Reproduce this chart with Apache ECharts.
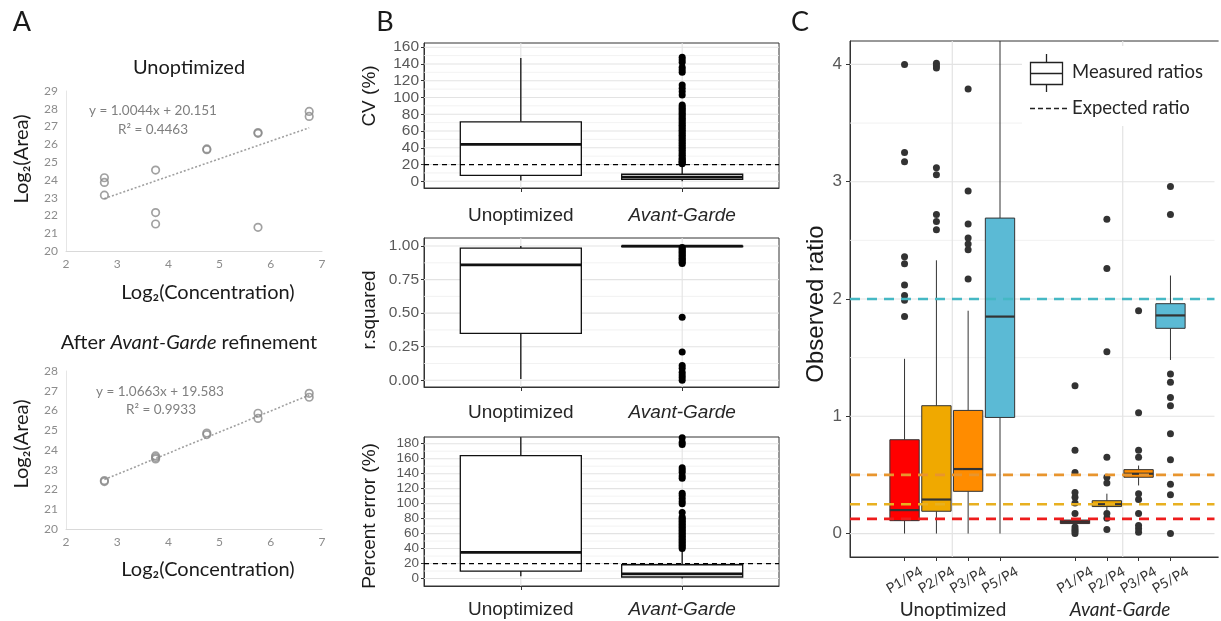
<!DOCTYPE html>
<html><head><meta charset="utf-8">
<script src="https://cdn.jsdelivr.net/npm/echarts@6/dist/echarts.min.js"></script>
<style>html,body{margin:0;padding:0;background:#fff}#c{width:1221px;height:621px}</style>
</head><body><div id="c"></div>
<script>
// ---------------- Panel A data ----------------
const aXTicks = [2, 3, 4, 5, 6, 7];
const aTopPoints = [[2.75,24.12],[2.75,23.86],[2.75,23.14],[3.75,24.55],[3.75,22.16],[3.75,21.52],[4.75,25.70],[4.75,25.74],[5.75,26.66],[5.75,26.62],[5.75,21.33],[6.75,27.85],[6.75,27.57]];
const aTopTrend = [[2.75,22.95],[6.75,26.93]];
const aBotPoints = [[2.75,22.40],[2.75,22.45],[3.75,23.55],[3.75,23.62],[3.75,23.70],[4.75,24.78],[4.75,24.86],[5.75,25.60],[5.75,25.86],[6.75,26.67],[6.75,26.87]];
const aBotTrend = [[2.75,22.50],[6.75,26.78]];
const aTopEq = ['y = 1.0044x + 20.151', 'R² = 0.4463'];
const aBotEq = ['y = 1.0663x + 19.583', 'R² = 0.9933'];

// ---------------- Panel B data ----------------
const bCategories = ['Unoptimized', 'Avant-Garde'];
// each box: [low, q1, median, q3, high]
const cvBoxes = [[1, 7, 44, 71, 147], [0, 2.4, 5, 8.4, 19]];
const cvOutliersAG = [21,22,23,24,26,27,29,31,33,35,37,39,41,43,45,47,49,51,53,55,57,59,61,63,65,67,69,71,73,75,77,79,81,83,85,87,89,91,103,107,111,115,130,133,136,142,145,148];
const cvTicks = [0,20,40,60,80,100,120,140,160];
const cvMinor = [10,30,50,70,90,110,130,150];
const cvExpected = 20;

const r2Boxes = [[0.01, 0.35, 0.86, 0.985, 1.0], [0.99, 0.996, 1.0, 1.0, 1.0]];
const r2OutliersAG = [0.87,0.88,0.89,0.90,0.91,0.92,0.93,0.94,0.95,0.96,0.97,0.98,0.99,0.47,0.21,0.11,0.09,0.06,0.04,0.02,0.0];
const r2Ticks = [0, 0.25, 0.5, 0.75, 1];
const r2Minor = [0.125, 0.375, 0.625, 0.875];

const peBoxes = [[3, 10, 35, 164, 200], [0, 2, 6.3, 18.4, 37.6]];
const peOutliersAG = [40,42,44,46,48,50,52,54,56,58,60,62,64,66,68,70,72,74,76,78,80,82,88,100,103,107,111,114,134,137,142,145,148,179,182,188];
const peTicks = [0,20,40,60,80,100,120,140,160,180];
const peMinor = [10,30,50,70,90,110,130,150,170];
const peExpected = 20;

// ---------------- Panel C data ----------------
const cGroups = ['Unoptimized', 'Avant-Garde'];
const cRatios = ['P1/P4', 'P2/P4', 'P3/P4', 'P5/P4'];
const cColors = ['#ff0000', '#f0a900', '#ff8c00', '#5bbad5'];
const cExpected = [0.125, 0.25, 0.5, 2];
const cExpectedColors = ['#ee1c1c', '#e8b020', '#e8952e', '#45b8c4'];
const cUnoptBoxes = [[0,0.11,0.20,0.80,1.49],[0,0.19,0.29,1.09,2.33],[0,0.36,0.55,1.05,1.90],[0,0.99,1.85,2.69,4.6]];
const cUnoptOutliers = [[1.85,1.99,2.03,2.12,2.30,2.36,3.17,3.25,4.0],[2.59,2.66,2.72,3.06,3.12,3.97,3.99,4.01],[2.17,2.42,2.47,2.52,2.64,2.92,3.79],[]];
const cAGBoxes = [[0.07,0.085,0.10,0.115,0.13],[0.2,0.23,0.25,0.28,0.34],[0.41,0.48,0.51,0.545,0.58],[1.48,1.75,1.86,1.96,2.2]];
const cAGOutliers = [[0,0.02,0.035,0.055,0.17,0.26,0.31,0.35,0.52,0.71,1.26],[0.035,0.13,0.17,0.43,0.48,0.65,1.55,2.26,2.68],[0.01,0.04,0.068,0.17,0.29,0.34,0.65,0.71,1.03,1.9],[0,0.33,0.42,0.63,0.85,1.09,1.16,1.29,1.36,2.72,2.96]];
const cYTicks = [0, 1, 2, 3, 4];
const cYMinor = [0.5, 1.5, 2.5, 3.5];
const cYMin = -0.2, cYMax = 4.2;
const cXMin = 0.4, cXMax = 2.6;

// ---------------- layout / style ----------------
const CAL = 'Lato, "Open Sans", sans-serif';
const ARIAL = '"Liberation Sans", Arial, sans-serif';
const cDodge = [-0.28, -0.093, 0.093, 0.28];
const cGroupPos = [1, 2];

const chart = echarts.init(document.getElementById('c'), null, {renderer: 'canvas'});

function boxRender(halfW, stroke, lw, medW) {
  return function (params, api) {
    const x = api.value(0);
    const lo = api.coord([x, api.value(1)]);
    const q1 = api.coord([x, api.value(2)]);
    const md = api.coord([x, api.value(3)]);
    const q3 = api.coord([x, api.value(4)]);
    const hi = api.coord([x, api.value(5)]);
    const hw = api.size([halfW, 0])[0];
    const fill = api.visual('color');
    return {
      type: 'group',
      children: [
        {type: 'line', shape: {x1: lo[0], y1: lo[1], x2: q1[0], y2: q1[1]}, style: {stroke, lineWidth: lw}},
        {type: 'line', shape: {x1: q3[0], y1: q3[1], x2: hi[0], y2: hi[1]}, style: {stroke, lineWidth: lw}},
        {type: 'rect', shape: {x: q1[0] - hw, y: q3[1], width: 2 * hw, height: Math.max(q1[1] - q3[1], 0.5)}, style: {fill, stroke, lineWidth: lw}},
        {type: 'line', shape: {x1: md[0] - hw, y1: md[1], x2: md[0] + hw, y2: md[1]}, style: {stroke, lineWidth: medW}}
      ]
    };
  };
}

function lineRender(width, dash) {
  return function (params, api) {
    const cs = params.coordSys;
    const p = api.coord([api.value(0), api.value(1)]);
    const horiz = api.value(2) === 0;
    const shape = horiz ? {x1: cs.x, y1: p[1], x2: cs.x + cs.width, y2: p[1]}
                        : {x1: p[0], y1: cs.y, x2: p[0], y2: cs.y + cs.height};
    return {type: 'line', shape, style: {stroke: api.visual('color'), lineWidth: width, lineDash: dash || null}};
  };
}

function refLines(grid, items, color, width, dash, z, clip) {
  return {
    type: 'custom', xAxisIndex: grid, yAxisIndex: grid, z: z, silent: true, clip: clip !== false,
    renderItem: lineRender(width, dash),
    encode: {x: 0, y: 1},
    itemStyle: {color: color},
    data: items
  };
}
const H = (vals, x) => vals.map(v => [x, v, 0]);
const V = (vals, y) => vals.map(v => [v, y, 1]);

// grids
const grids = [
  {left: 66, top: 91, width: 256, height: 160},
  {left: 66, top: 371, width: 256, height: 158},
  {left: 424, top: 43, width: 355, height: 145},
  {left: 424, top: 238, width: 355, height: 149},
  {left: 424, top: 437, width: 355, height: 149},
  {left: 850, top: 41, width: 375, height: 516}
].map((g, i) => Object.assign(g, {
  show: i >= 2, borderColor: '#333', borderWidth: 1, backgroundColor: 'transparent',
  containLabel: false, outerBoundsMode: 'none'
}));

const aX = (gi) => ({
  type: 'value', gridIndex: gi, min: 2, max: 7, interval: 1, position: 'bottom',
  axisLine: {show: true, onZero: false, lineStyle: {color: '#d9d9d9', width: 1}},
  axisTick: {show: false}, splitLine: {show: false},
  axisLabel: {color: '#8c8c8c', fontFamily: CAL, fontSize: 12, margin: 7}
});
const aY = (gi, max) => ({
  type: 'value', gridIndex: gi, min: 20, max: max, interval: 1, position: 'left',
  axisLine: {show: true, onZero: false, lineStyle: {color: '#e6e6e6', width: 1}},
  axisTick: {show: false}, splitLine: {show: false},
  axisLabel: {color: '#8c8c8c', fontFamily: CAL, fontSize: 12, margin: 8}
});
const bX = (gi, margin) => ({
  type: 'value', gridIndex: gi, min: 0.4, max: 2.6, position: 'bottom',
  axisLine: {show: true, onZero: false, lineStyle: {color: '#333', width: 1}},
  axisTick: {show: true, customValues: [1, 2], length: 4, lineStyle: {color: '#333'}},
  splitLine: {show: false},
  axisLabel: {
    customValues: [1, 2], margin: margin, color: '#262626', fontFamily: ARIAL, fontSize: 19,
    formatter: v => (Math.round(v) === 1 ? bCategories[0] : '{i|' + bCategories[1] + '}'),
    rich: {i: {fontStyle: 'italic', fontFamily: ARIAL, fontSize: 19, color: '#262626'}}
  }
});
const bY = (gi, min, max, ticks, fmt, fs) => ({
  type: 'value', gridIndex: gi, min: min, max: max, position: 'left',
  axisLine: {show: true, onZero: false, lineStyle: {color: '#333', width: 1}},
  axisTick: {show: true, customValues: ticks, length: 3, lineStyle: {color: '#333'}},
  splitLine: {show: false},
  axisLabel: {customValues: ticks, margin: 5, color: '#595959', fontFamily: ARIAL, fontSize: fs || 15.5, lineHeight: fs || 12,
    showMinLabel: true, showMaxLabel: true, hideOverlap: false, formatter: fmt}
});

const cPositions = [];
const cLabels = [];
cGroupPos.forEach(g => cDodge.forEach((d, k) => { cPositions.push(g + d); cLabels.push(cRatios[k]); }));

const xAxis = [
  aX(0), aX(1),
  bX(2, 18), bX(3, 16), bX(4, 14),
  {
    type: 'value', gridIndex: 5, min: cXMin, max: cXMax, position: 'bottom',
    axisLine: {show: true, onZero: false, lineStyle: {color: '#333', width: 1}},
    axisTick: {show: true, customValues: cPositions, length: 4, lineStyle: {color: '#333'}},
    splitLine: {show: false},
    axisLabel: {
      customValues: cPositions, rotate: 30, align: 'center', verticalAlign: 'middle', margin: 23,
      color: '#333', fontFamily: CAL, fontSize: 14, hideOverlap: false,
      formatter: v => { let bi = 0; cPositions.forEach((p, i) => { if (Math.abs(p - v) < Math.abs(cPositions[bi] - v)) bi = i; }); return cLabels[bi]; }
    }
  }
];
const yAxis = [
  aY(0, 29), aY(1, 28),
  bY(2, -8, 165, cvTicks),
  bY(3, -0.05, 1.06, r2Ticks, v => v.toFixed(2)),
  bY(4, -10, 189, peTicks, undefined, 13.5),
  {
    type: 'value', gridIndex: 5, min: cYMin, max: cYMax, position: 'left',
    axisLine: {show: true, onZero: false, lineStyle: {color: '#333', width: 1}},
    axisTick: {show: true, customValues: cYTicks, length: 4, lineStyle: {color: '#333'}},
    splitLine: {show: false},
    axisLabel: {customValues: cYTicks, margin: 8, color: '#595959', fontFamily: ARIAL, fontSize: 17}
  }
];

const MAJ = '#e3e3e3', MIN = '#efefef';
const series = [];

// Panel A
[[0, aTopPoints, aTopTrend], [1, aBotPoints, aBotTrend]].forEach(([gi, pts, tr]) => {
  series.push({
    type: 'line', xAxisIndex: gi, yAxisIndex: gi, data: tr, symbol: 'none', silent: true, z: 2,
    lineStyle: {color: '#a0a0a0', width: 1.6, type: [2, 2]}
  });
  series.push({
    type: 'scatter', xAxisIndex: gi, yAxisIndex: gi, data: pts, symbol: 'circle', symbolSize: 7.5, silent: true, z: 3,
    itemStyle: {color: 'rgba(255,255,255,0)', borderColor: '#8a8a8a', borderWidth: 1.7}
  });
});

// Panel B
const bPanels = [
  [2, cvBoxes, cvOutliersAG, cvTicks, cvMinor, cvExpected, -8],
  [3, r2Boxes, r2OutliersAG, r2Ticks, r2Minor, null, 0],
  [4, peBoxes, peOutliersAG, peTicks, peMinor, peExpected, -10]
];
bPanels.forEach(([gi, boxes, outs, ticks, minor, expv, ymin]) => {
  series.push(refLines(gi, H(minor, 1), MIN, 0.8, null, 1));
  series.push(refLines(gi, H(ticks, 1), MAJ, 1.1, null, 1));
  series.push(refLines(gi, V([1, 2], ymin + 1e-6), MAJ, 1.1, null, 1));
  series.push({
    type: 'custom', xAxisIndex: gi, yAxisIndex: gi, z: 3, silent: true, clip: true,
    renderItem: boxRender(0.375, '#111', 1.3, 2.8),
    encode: {x: 0, y: [1, 2, 3, 4, 5]},
    itemStyle: {color: '#ffffff'},
    data: boxes.map((b, i) => [i + 1].concat(b))
  });
  series.push({
    type: 'scatter', xAxisIndex: gi, yAxisIndex: gi, z: 4, silent: true, symbolSize: 7,
    itemStyle: {color: '#000', opacity: 1},
    data: outs.map(v => [2, v])
  });
  if (expv !== null) series.push(refLines(gi, H([expv], 1), '#000', 1.3, [5, 4], 5));
});

// Panel C
series.push(refLines(5, H(cYMinor, 1), MIN, 0.9, null, 1));
series.push(refLines(5, H(cYTicks, 1), MAJ, 1.2, null, 1));
series.push(refLines(5, V(cGroupPos, 0), MAJ, 1.2, null, 1));
const cBoxData = [];
const cOutData = [];
[cUnoptBoxes, cAGBoxes].forEach((grp, gi) => grp.forEach((b, k) => {
  cBoxData.push({value: [cGroupPos[gi] + cDodge[k]].concat(b), itemStyle: {color: cColors[k]}});
}));
[cUnoptOutliers, cAGOutliers].forEach((grp, gi) => grp.forEach((arr, k) => {
  arr.forEach(v => cOutData.push([cGroupPos[gi] + cDodge[k], v]));
}));
series.push({
  type: 'custom', xAxisIndex: 5, yAxisIndex: 5, z: 3, silent: true, clip: true,
  renderItem: boxRender(0.086, '#333', 1, 2.2),
  encode: {x: 0, y: [1, 2, 3, 4, 5]},
  data: cBoxData
});
series.push({
  type: 'scatter', xAxisIndex: 5, yAxisIndex: 5, z: 4, silent: true, symbolSize: 7,
  itemStyle: {color: '#333', opacity: 1},
  data: cOutData
});
series.push({
  type: 'custom', xAxisIndex: 5, yAxisIndex: 5, z: 5, silent: true, clip: true,
  renderItem: lineRender(2.6, [10, 7]),
  encode: {x: 0, y: 1},
  data: cExpected.map((v, i) => ({value: [1, v, 0], itemStyle: {color: cExpectedColors[i]}}))
});

// text & legend
const txt = (x, y, text, font, fill, extra) => Object.assign({
  type: 'text', x: x, y: y, silent: true, z: 100,
  style: Object.assign({text: text, font: font, fill: fill, textAlign: 'center', textVerticalAlign: 'middle'}, (extra && extra.style) || {})
}, extra && extra.rotation !== undefined ? {rotation: extra.rotation} : {});
const R90 = Math.PI / 2;
const graphic = [
  txt(22, 22, 'A', '27px ' + CAL, '#1a1a1a'),
  txt(385, 22, 'B', '27px ' + CAL, '#1a1a1a'),
  txt(800, 22, 'C', '27px ' + CAL, '#1a1a1a'),
  txt(189, 68, 'Unoptimized', '20px ' + CAL, '#1a1a1a'),
  {
    type: 'text', x: 189, y: 343, silent: true, z: 100,
    style: {
      text: 'After {i|Avant-Garde} refinement', font: '20px ' + CAL, fill: '#1a1a1a',
      textAlign: 'center', textVerticalAlign: 'middle',
      rich: {i: {fontStyle: 'italic', fontSize: 20, fontFamily: CAL, fill: '#1a1a1a'}}
    }
  },
  txt(153, 111, aTopEq[0], '13.5px ' + CAL, '#7f7f7f'),
  txt(153, 130, aTopEq[1], '13.5px ' + CAL, '#7f7f7f'),
  txt(160, 392, aBotEq[0], '13.5px ' + CAL, '#7f7f7f'),
  txt(161, 410, aBotEq[1], '13.5px ' + CAL, '#7f7f7f'),
  txt(208, 293, 'Log₂(Concentration)', '20px ' + CAL, '#1a1a1a'),
  txt(208, 570, 'Log₂(Concentration)', '20px ' + CAL, '#1a1a1a'),
  txt(22, 159, 'Log₂(Area)', '20px ' + CAL, '#1a1a1a', {rotation: R90}),
  txt(22, 444, 'Log₂(Area)', '20px ' + CAL, '#1a1a1a', {rotation: R90}),
  txt(370, 96, 'CV (%)', '19px ' + ARIAL, '#1a1a1a', {rotation: R90}),
  txt(370, 310, 'r.squared', '19px ' + ARIAL, '#1a1a1a', {rotation: R90}),
  txt(370, 516, 'Percent error (%)', '19px ' + ARIAL, '#1a1a1a', {rotation: R90}),
  txt(816, 304, 'Observed ratio', '24px ' + ARIAL, '#1a1a1a', {rotation: R90}),
  txt(953, 610, cGroups[0], '19px ' + CAL, '#262626'),
  txt(1120, 610, cGroups[1], 'italic 19px ' + CAL, '#262626'),
  // panel C is cut at the figure's right edge: hide the right frame line
  {type: 'rect', z: 150, silent: true, shape: {x: 1214.5, y: 42, width: 4.5, height: 514}, style: {fill: '#ffffff'}},
  {type: 'rect', z: 150, silent: true, shape: {x: 1218.6, y: 36, width: 4, height: 526}, style: {fill: '#ffffff'}},
  // legend
  {type: 'rect', z: 90, silent: true, shape: {x: 1022, y: 46, width: 199, height: 80}, style: {fill: '#ffffff'}},
  {type: 'line', z: 101, silent: true, shape: {x1: 1046.5, y1: 54, x2: 1046.5, y2: 92}, style: {stroke: '#222', lineWidth: 1.3}},
  {type: 'rect', z: 102, silent: true, shape: {x: 1030.5, y: 62.5, width: 32, height: 22}, style: {fill: '#fff', stroke: '#222', lineWidth: 1.3}},
  {type: 'line', z: 103, silent: true, shape: {x1: 1030.5, y1: 73.5, x2: 1062.5, y2: 73.5}, style: {stroke: '#222', lineWidth: 1.3}},
  {type: 'line', z: 101, silent: true, shape: {x1: 1030, y1: 108.5, x2: 1068, y2: 108.5}, style: {stroke: '#222', lineWidth: 1.3, lineDash: [5, 3]}},
  txt(1072, 72, 'Measured ratios', '18.5px ' + CAL, '#262626', {style: {textAlign: 'left'}}),
  txt(1072, 108, 'Expected ratio', '18.5px ' + CAL, '#262626', {style: {textAlign: 'left'}})
];

chart.setOption({
  backgroundColor: '#ffffff',
  animation: false,
  grid: grids,
  xAxis: xAxis,
  yAxis: yAxis,
  series: series,
  graphic: graphic
});
</script></body></html>
